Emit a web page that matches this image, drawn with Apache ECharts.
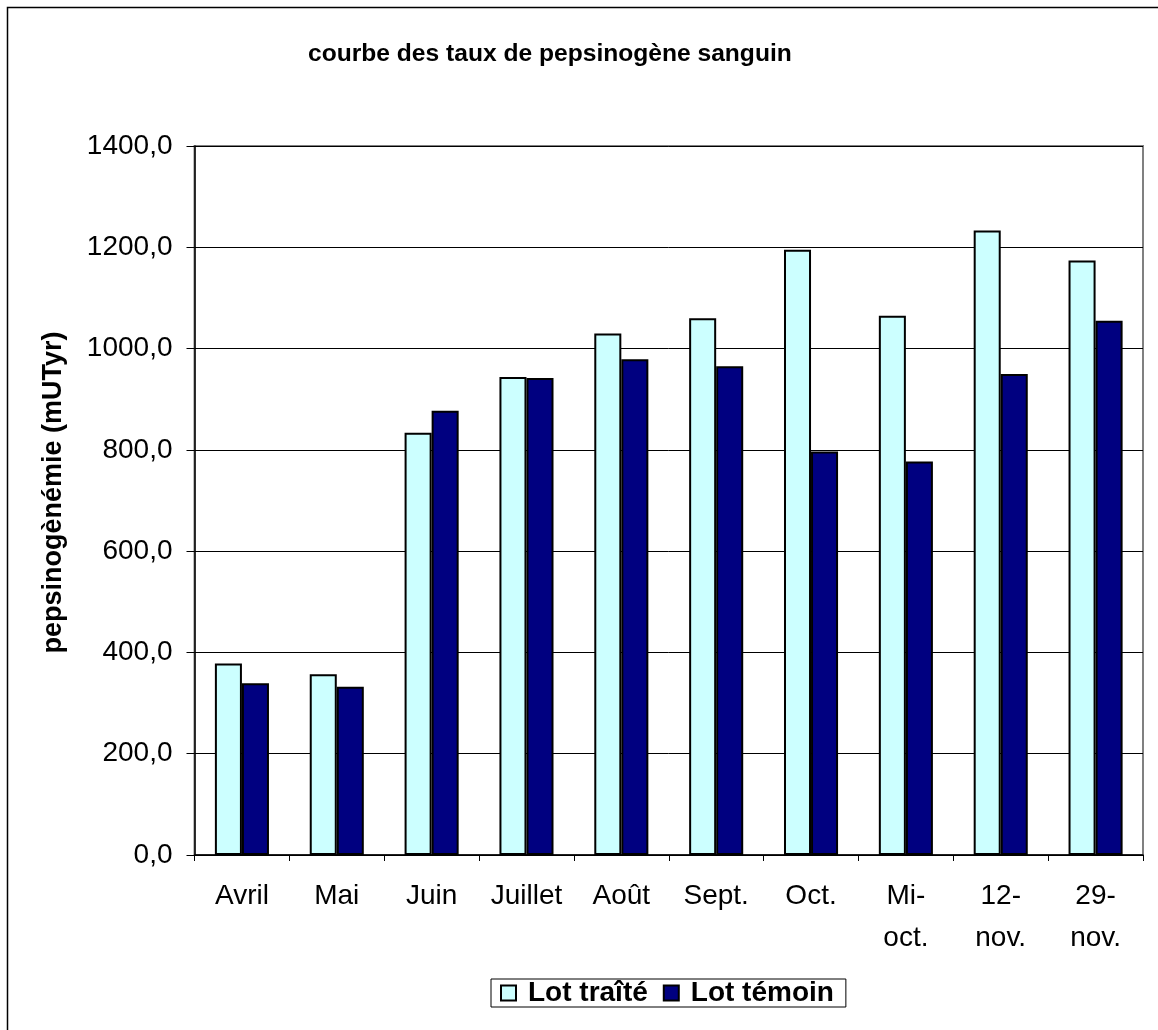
<!DOCTYPE html>
<html>
<head>
<meta charset="utf-8">
<script src="https://cdn.jsdelivr.net/npm/echarts@6/dist/echarts.min.js"></script>
<style>html,body{margin:0;padding:0;background:#fff;}#chart{width:1158px;height:1030px;}</style>
</head>
<body>
<div id="chart"></div>
<script>
const categories = ['Avril', 'Mai', 'Juin', 'Juillet', 'Août', 'Sept.', 'Oct.', 'Mi-\noct.', '12-\nnov.', '29-\nnov.'];
const lotTraite = [378, 357, 834, 944, 1030, 1060, 1195, 1065, 1233, 1174];
const lotTemoin = [339, 332, 877, 942, 979, 965, 797, 777, 950, 1055];
const seriesNames = ['Lot traîté', 'Lot témoin'];
const titleText = 'courbe des taux de pepsinogène sanguin';
const yAxisName = 'pepsinogènémie (mUTyr)';

const chart = echarts.init(document.getElementById('chart'), null, {renderer: 'canvas'});
const FONT = '"Liberation Sans", Arial, sans-serif';
chart.setOption({
  animation: false,
  backgroundColor: '#fff',
  graphic: [{
    type: 'rect', z: -1,
    shape: {x: 7.5, y: 7.5, width: 1400, height: 1400},
    style: {fill: 'none', stroke: '#000', lineWidth: 1.5}
  }],
  title: {
    text: titleText, left: 308, top: 42, padding: 0,
    textStyle: {fontFamily: FONT, fontWeight: 'bold', fontSize: 24.6, color: '#000'}
  },
  legend: {
    data: seriesNames, left: 491, top: 979, orient: 'horizontal',
    icon: 'rect', itemWidth: 15, itemHeight: 15, itemGap: 15,
    padding: [0, 12, 0, 9], borderColor: '#000', borderWidth: 1,
    itemStyle: {borderColor: '#000', borderWidth: 2},
    textStyle: {fontFamily: FONT, fontWeight: 'bold', fontSize: 28, lineHeight: 28, color: '#000', padding: [0, 0, 0, 7]}
  },
  grid: {left: 194.5, top: 146, right: 15, bottom: 175, show: true, borderColor: '#808080', borderWidth: 2, backgroundColor: '#fff'},
  xAxis: {
    type: 'category', data: categories,
    axisLine: {lineStyle: {color: '#000', width: 1.5}},
    axisTick: {show: true, interval: 0, length: 6, lineStyle: {color: '#000'}},
    axisLabel: {interval: 0, fontFamily: FONT, fontSize: 28, color: '#000', margin: 20, lineHeight: 42}
  },
  yAxis: {
    type: 'value', min: 0, max: 1400, interval: 200,
    name: yAxisName, nameLocation: 'middle', nameRotate: 90, nameGap: 127,
    nameTextStyle: {fontFamily: FONT, fontWeight: 'bold', fontSize: 27, color: '#000', padding: [0, 0, 0, 16]},
    axisLine: {show: true, lineStyle: {color: '#000', width: 1.5}},
    axisTick: {show: true, length: 8, lineStyle: {color: '#000'}},
    axisLabel: {fontFamily: FONT, fontSize: 28, color: '#000', margin: 22,
      formatter: v => v.toFixed(1).replace('.', ',')},
    splitLine: {lineStyle: {color: '#000', width: 1}}
  },
  series: [
    {name: seriesNames[0], type: 'bar', data: lotTraite, barGap: '0%', barCategoryGap: '43%',
      itemStyle: {color: '#CCFFFF', borderColor: '#000', borderWidth: 2}},
    {name: seriesNames[1], type: 'bar', data: lotTemoin, barGap: '0%', barCategoryGap: '43%',
      itemStyle: {color: '#000080', borderColor: '#000', borderWidth: 2}}
  ]
});
</script>
</body>
</html>
